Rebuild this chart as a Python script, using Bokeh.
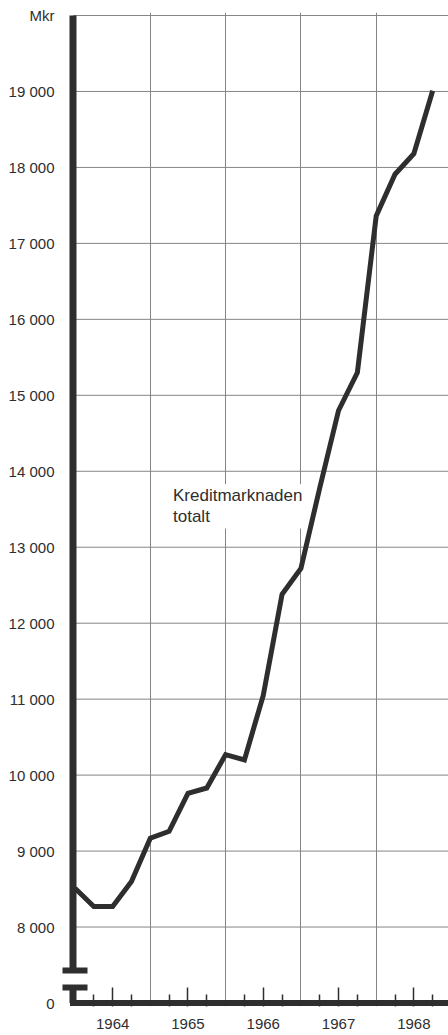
from bokeh.plotting import figure
from bokeh.models import FixedTicker, Range1d, Label
from bokeh.embed import file_html
from bokeh.resources import INLINE

# ---- data ----
quarters = [1964.0, 1964.25, 1964.5, 1964.75,
            1965.0, 1965.25, 1965.5, 1965.75,
            1966.0, 1966.25, 1966.5, 1966.75,
            1967.0, 1967.25, 1967.5, 1967.75,
            1968.0, 1968.25, 1968.5, 1968.75]
credit_total = [8510, 8270, 8270, 8600,
                9170, 9260, 9760, 9830,
                10270, 10200, 11050, 12380,
                12720, 13780, 14800, 15300,
                17360, 17910, 18180, 19010]
y_ticks = [8000, 9000, 10000, 11000, 12000, 13000, 14000,
           15000, 16000, 17000, 18000, 19000, 20000]
y_tick_labels = ["8 000", "9 000", "10 000", "11 000", "12 000", "13 000", "14 000",
                 "15 000", "16 000", "17 000", "18 000", "19 000", "Mkr"]
years = [1964, 1965, 1966, 1967, 1968]
year_labels = ["1964", "1965", "1966", "1967", "1968"]
series_label = "Kreditmarknaden\ntotalt"

# ---- layout constants ----
PX_YEAR = 75.3
PX_UNIT = 0.075962
ZERO_POS = 7000          # where the value 0 is drawn below the axis break
BREAK_HI = 7428
BREAK_LO = 7204
X0 = 1964.0 - 14.5 / PX_YEAR
X1 = X0 + 388 / PX_YEAR
Y0 = ZERO_POS - 3.5 / PX_UNIT
Y1 = 20000 + 3 / PX_UNIT
AXIS_X = 1964.0 - 2 / PX_YEAR
BAR_HALF = 12.5 / PX_YEAR

INK = "#2e2e2e"
GRID = "#858585"
FONT = "Liberation Sans"

p = figure(width=448, height=1035, x_range=Range1d(X0, X1), y_range=Range1d(Y0, Y1),
           output_backend="svg", toolbar_location=None,
           min_border_left=60, min_border_right=0, min_border_top=12, min_border_bottom=29)
p.outline_line_color = None
p.background_fill_color = "white"
p.border_fill_color = "white"

# grids
p.ygrid.grid_line_color = None
p.xgrid.ticker = FixedTicker(ticks=[float(y) for y in years[1:]])
p.xgrid.grid_line_color = GRID
p.xgrid.grid_line_width = 1

# series label sits over the vertical grid but under the data line
lbl = Label(x=1964.0 + 96 / PX_YEAR, y=13830, text=series_label, text_font=FONT,
            text_font_size="17px", text_line_height=1.12, text_color=INK,
            text_align="left", text_baseline="top",
            background_fill_color="white", padding=2, level="underlay")
p.add_layout(lbl)

n = len(y_ticks)
p.segment(x0=[AXIS_X] * n, y0=y_ticks, x1=[X1] * n, y1=y_ticks,
          line_color=GRID, line_width=1)

# axis lines with break
p.segment(x0=[AXIS_X], y0=[BREAK_HI], x1=[AXIS_X], y1=[y_ticks[-1]], line_color=INK, line_width=7)
p.segment(x0=[AXIS_X], y0=[ZERO_POS], x1=[AXIS_X], y1=[BREAK_LO], line_color=INK, line_width=7)
p.segment(x0=[1964.0 - BAR_HALF] * 2, y0=[BREAK_HI, BREAK_LO],
          x1=[1964.0 + BAR_HALF] * 2, y1=[BREAK_HI, BREAK_LO],
          line_color=INK, line_width=6)
p.segment(x0=[AXIS_X], y0=[ZERO_POS], x1=[X1], y1=[ZERO_POS], line_color=INK,
          line_width=6, line_cap="square")

# data line
p.line(quarters, credit_total, line_color=INK, line_width=5, line_join="miter")

# x axis
xa = p.xaxis[0]
mids = [y + 0.5 for y in years]
xa.ticker = FixedTicker(ticks=mids,
                        minor_ticks=[y + q for y in years for q in (0.25, 0.75)])
xa.major_label_overrides = {m: lab for m, lab in zip(mids, year_labels)}
xa.axis_line_color = None
xa.major_tick_in = 19
xa.major_tick_out = 0
xa.minor_tick_in = 12
xa.minor_tick_out = 0
xa.major_tick_line_color = INK
xa.minor_tick_line_color = INK
xa.major_tick_line_width = 1.5
xa.minor_tick_line_width = 1.5
xa.major_label_standoff = 12
xa.major_label_text_font = FONT
xa.major_label_text_font_size = "15px"
xa.major_label_text_color = INK

# y axis
ya = p.yaxis[0]
ya.ticker = FixedTicker(ticks=[ZERO_POS] + y_ticks)
overrides = {ZERO_POS: "0"}
overrides.update({t: lab for t, lab in zip(y_ticks, y_tick_labels)})
ya.major_label_overrides = overrides
ya.axis_line_color = None
ya.major_tick_line_color = None
ya.minor_tick_line_color = None
ya.major_tick_in = 0
ya.major_tick_out = 0
ya.minor_tick_in = 0
ya.minor_tick_out = 0
ya.major_label_standoff = 6
ya.major_label_text_font = FONT
ya.major_label_text_font_size = "15px"
ya.major_label_text_color = INK

open("out.html", "w").write(file_html(p, INLINE))
